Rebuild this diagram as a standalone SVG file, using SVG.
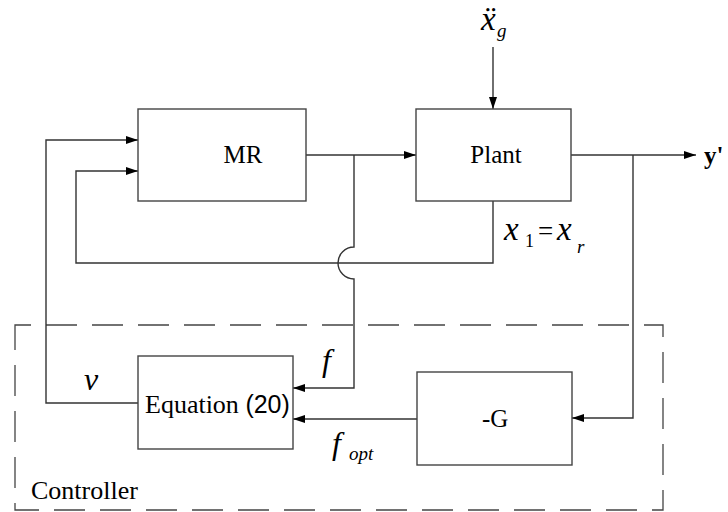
<svg xmlns="http://www.w3.org/2000/svg" width="728" height="512" viewBox="0 0 728 512">
<style>
.box{fill:#fff;stroke:#444;stroke-width:1.4}
.ln{fill:none;stroke:#333;stroke-width:1.4}
</style>
<defs>
<marker id="ah" viewBox="0 0 12 8" refX="12" refY="4" markerWidth="12" markerHeight="8" markerUnits="userSpaceOnUse" orient="auto">
<path d="M0,0 L12,4 L0,8 Z" fill="#000"/>
</marker>
</defs>
<rect x="15" y="325" width="648" height="185" fill="none" stroke="#444" stroke-width="1.3" stroke-dasharray="31 15" stroke-dashoffset="15"/>
<g id="connectors">
<path class="ln" d="M493,47 V109" marker-end="url(#ah)"/>
<path class="ln" d="M306,155 H416" marker-end="url(#ah)"/>
<path class="ln" d="M571,155 H696" marker-end="url(#ah)"/>
<path class="ln" d="M354,155 V247 A16,16 0 0 0 354,279 V388 H293" marker-end="url(#ah)"/>
<path class="ln" d="M493,201 V263 H76 V171 H138" marker-end="url(#ah)"/>
<path class="ln" d="M633,155 V418 H572" marker-end="url(#ah)"/>
<path class="ln" d="M417,419 H293" marker-end="url(#ah)"/>
<path class="ln" d="M138,403 H46 V140 H138" marker-end="url(#ah)"/>
</g>
<g font-family="'Times New Roman','Liberation Serif',serif" fill="#000">
<text x="31" y="499" font-size="26">Controller</text>
<g id="mr"><rect class="box" x="138" y="109" width="168" height="92"/><text x="243" y="163" font-size="25" text-anchor="middle">MR</text></g>
<g id="plant"><rect class="box" x="416" y="109" width="155" height="92"/><text x="496" y="163" font-size="25" text-anchor="middle">Plant</text></g>
<g id="eq"><rect class="box" x="138" y="356" width="155" height="93"/><text x="145" y="413" font-size="26">Equation <tspan font-family="'Liberation Sans',Arial,sans-serif" font-size="25">(20)</tspan></text></g>
<g id="g"><rect class="box" x="417" y="372" width="155" height="93"/><text x="482" y="427" font-size="25">-G</text></g>
<g id="labels" font-style="italic">
<text x="481" y="30" font-size="33">ẍ</text>
<text x="497" y="37" font-size="19">g</text>
<text x="504" y="240" font-size="33">x</text>
<text x="525" y="247" font-size="18" font-style="normal">1</text>
<text x="538" y="240" font-size="27" font-style="normal">=</text>
<text x="557" y="240" font-size="33">x</text>
<text x="577" y="253" font-size="19">r</text>
<text x="322" y="371" font-size="32">f</text>
<text x="84" y="390" font-size="32">v</text>
<text x="332" y="454" font-size="32">f</text>
<text x="349" y="460" font-size="19">opt</text>
<text x="704" y="164" font-size="25" font-weight="bold" font-style="normal">y'</text>
</g>
</g>
</svg>
